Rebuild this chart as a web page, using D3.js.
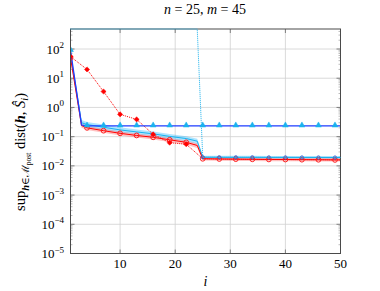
<!DOCTYPE html>
<html><head><meta charset="utf-8">
<script src="https://cdn.jsdelivr.net/npm/d3@7"></script>
<style>body{margin:0;background:#fff}svg{display:block}</style>
</head><body><svg id="c" width="380" height="291" font-family="Liberation Serif, DejaVu Serif, serif"></svg>
<script>
// ---- data ----
const xTicks = [10, 20, 30, 40, 50];
const yExps = [2, 1, 0, -1, -2, -3, -4, -5];
const iters = [1, 3, 4, 7, 10, 13, 16, 19, 22, 24, 25, 28, 31, 34, 37, 40, 43, 46, 49, 50];
const redMean = [50, 0.24, 0.2, 0.16, 0.13, 0.11, 0.095, 0.078, 0.064, 0.05, 0.0175, 0.0172, 0.017, 0.0168, 0.0166, 0.0165, 0.0163, 0.0162, 0.016, 0.016];
const redLo   = [44, 0.2, 0.17, 0.135, 0.11, 0.093, 0.08, 0.065, 0.053, 0.041, 0.0152, 0.015, 0.0148, 0.0146, 0.0145, 0.0144, 0.0143, 0.0142, 0.014, 0.014];
const redHi   = [56, 0.28, 0.23, 0.185, 0.15, 0.127, 0.11, 0.09, 0.074, 0.058, 0.0195, 0.0193, 0.0192, 0.019, 0.0189, 0.0188, 0.0187, 0.0186, 0.0185, 0.0185];
const cyMean  = [70, 0.3, 0.26, 0.21, 0.17, 0.145, 0.125, 0.102, 0.086, 0.07, 0.0198, 0.0197, 0.0196, 0.0196, 0.0195, 0.0195, 0.0194, 0.0194, 0.0193, 0.0193];
const cyLo    = [60, 0.24, 0.21, 0.17, 0.14, 0.12, 0.102, 0.083, 0.07, 0.056, 0.0178, 0.0177, 0.0176, 0.0176, 0.0175, 0.0175, 0.0175, 0.0174, 0.0174, 0.0174];
const cyHi    = [80, 0.37, 0.32, 0.26, 0.21, 0.175, 0.15, 0.123, 0.104, 0.085, 0.0222, 0.0221, 0.022, 0.022, 0.0219, 0.0219, 0.0218, 0.0218, 0.0217, 0.0217];
const blueFlat = [90, 0.25, 0.235, 0.235, 0.235, 0.235, 0.235, 0.235, 0.235, 0.235, 0.235, 0.235, 0.235, 0.235, 0.235, 0.235, 0.235, 0.235, 0.235, 0.235];
const dotIters = [1, 4, 7, 10, 13, 16, 19, 22, 25, 28, 31, 34, 37, 40, 43, 46, 49, 50];
const redDotted = [55, 20, 3.5, 0.58, 0.39, 0.12, 0.062, 0.055, 0.0175, 0.017, 0.0168, 0.0166, 0.0165, 0.0164, 0.0163, 0.0162, 0.016, 0.016];
const cyDotIters = [1, 24, 25, 28, 31, 34, 37, 40, 43, 46, 49, 50];
const cyDotted = [1e6, 500, 0.0198, 0.0197, 0.0196, 0.0196, 0.0195, 0.0195, 0.0194, 0.0194, 0.0193, 0.0193];

// ---- layout ----
const FONT = "Liberation Serif, DejaVu Serif, serif";
const L = 70.5, R = 340.5, T = 29, B = 253.5;
const svg = d3.select("#c");
const x = d3.scaleLinear().domain([1, 50]).range([L, R]);
const y = d3.scaleLog().domain([1e-5, Math.pow(10, 2.685)]).range([B, T]);
const yc = y.copy().clamp(true);

svg.append("clipPath").attr("id", "clip").append("rect").attr("x", L).attr("y", T).attr("width", R - L).attr("height", B - T);

const g = svg.append("g");
g.selectAll(".gx").data(xTicks).join("line").attr("x1", d => x(d)).attr("x2", d => x(d)).attr("y1", T).attr("y2", B).attr("stroke", "#d0d0d0").attr("stroke-width", 0.8);
g.selectAll(".gy").data(yExps).join("line").attr("x1", L).attr("x2", R).attr("y1", d => y(Math.pow(10, d))).attr("y2", d => y(Math.pow(10, d))).attr("stroke", "#d0d0d0").attr("stroke-width", 0.8);

const minors = [];
for (let e = -5; e <= 2; e++) for (let k = 2; k <= 9; k++) { const v = k * Math.pow(10, e); if (v < y.domain()[1]) minors.push(v); }
g.selectAll(".my").data(minors).join("path").attr("d", d => `M${L},${y(d)}h2M${R},${y(d)}h-2`).attr("stroke", "#777").attr("stroke-width", 0.5);
g.selectAll(".My").data(yExps).join("path").attr("d", d => `M${L},${y(Math.pow(10, d))}h4M${R},${y(Math.pow(10, d))}h-4`).attr("stroke", "#555").attr("stroke-width", 0.7);
g.selectAll(".Mx").data(xTicks).join("path").attr("d", d => `M${x(d)},${B}v-4M${x(d)},${T}v4`).attr("stroke", "#555").attr("stroke-width", 0.7);

const plot = svg.append("g").attr("clip-path", "url(#clip)");
const band = (lo, hi) => d3.area().x((d, i) => x(iters[i])).y0((d, i) => y(lo[i])).y1((d, i) => y(hi[i]))(iters);
const line = (xs, ys, sc) => d3.line().x((d, i) => x(xs[i])).y((d, i) => (sc || y)(ys[i]))(xs);

plot.append("path").attr("d", band(cyLo, cyHi)).attr("fill", "#33bbff").attr("opacity", 0.4);
plot.append("path").attr("d", band(redLo, redHi)).attr("fill", "#ff4d4d").attr("opacity", 0.35);

plot.append("path").attr("d", line(dotIters, redDotted)).attr("fill", "none").attr("stroke", "#ff0000").attr("stroke-width", 1).attr("stroke-dasharray", "1,1");

plot.append("path").attr("d", line(iters, cyMean)).attr("fill", "none").attr("stroke", "#1ab2ee").attr("stroke-width", 1);
plot.append("path").attr("d", line(iters, redMean)).attr("fill", "none").attr("stroke", "#ff0000").attr("stroke-width", 1);
plot.append("path").attr("d", line(iters, blueFlat)).attr("fill", "none").attr("stroke", "#1f3cff").attr("stroke-width", 1.3);

const isMark = i => (i - 1) % 3 === 0;
const idx = iters.map((d, i) => i).filter(i => isMark(iters[i]));
plot.selectAll(".rc").data(idx).join("circle").attr("cx", i => x(iters[i])).attr("cy", i => y(redMean[i])).attr("r", 2.4).attr("fill", "none").attr("stroke", "#ff2020").attr("stroke-width", 1);
plot.selectAll(".bc").data(idx.filter(i => iters[i] >= 25)).join("circle").attr("cx", i => x(iters[i])).attr("cy", i => y(cyMean[i])).attr("r", 1.6).attr("fill", "none").attr("stroke", "#3060d0").attr("stroke-width", 0.9);
const tri = d3.symbol().type(d3.symbolTriangle).size(15);
plot.selectAll(".bt").data(idx).join("path").attr("transform", i => `translate(${x(iters[i])},${y(blueFlat[i]) - 0.5})`).attr("d", tri).attr("fill", "#1ab2ee").attr("stroke", "#1ab2ee").attr("stroke-width", 0.5);
const sq = d3.symbol().type(d3.symbolSquare).size(13);
const didx = dotIters.map((d, i) => i).filter(i => isMark(dotIters[i]) && dotIters[i] < 25);
plot.selectAll(".rd").data(didx).join("path").attr("transform", i => `translate(${x(dotIters[i])},${y(redDotted[i])}) rotate(45)`).attr("d", sq).attr("fill", "#ff0000").attr("stroke", "#ff0000").attr("stroke-width", 0.5);

svg.append("rect").attr("x", L).attr("y", T).attr("width", R - L).attr("height", B - T).attr("fill", "none").attr("stroke", "#4a4a4a").attr("stroke-width", 1);

// cyan dotted (clamped to top edge), drawn over the frame
svg.append("path").attr("d", line(cyDotIters, cyDotted, yc)).attr("fill", "none").attr("stroke", "#1ab2ee").attr("stroke-width", 1).attr("stroke-dasharray", "1,1");

svg.selectAll(".xl").data(xTicks).join("text").attr("font-family", FONT).attr("x", d => x(d)).attr("y", 268).attr("text-anchor", "middle").attr("font-size", 13).text(d => d);
const yl = svg.selectAll(".yl").data(yExps).join("text").attr("font-family", FONT).attr("x", 64).attr("y", d => y(Math.pow(10, d)) + 4.5).attr("text-anchor", "end").attr("font-size", 13);
yl.append("tspan").text("10");
yl.append("tspan").attr("dy", -5.5).attr("font-size", 9).text(d => String(d).replace("-", "\u2212"));

const t = svg.append("text").attr("font-family", FONT).attr("x", 205).attr("y", 14).attr("text-anchor", "middle").attr("font-size", 14);
t.append("tspan").attr("font-style", "italic").text("n");
t.append("tspan").text(" = 25, ");
t.append("tspan").attr("font-style", "italic").text("m");
t.append("tspan").text(" = 45");

svg.append("text").attr("font-family", FONT).attr("x", 205.5).attr("y", 286).attr("text-anchor", "middle").attr("font-size", 14).attr("font-style", "italic").text("i");

const ylab = svg.append("text").attr("font-family", FONT).attr("transform", "translate(25,152) rotate(-90)").attr("text-anchor", "middle").attr("font-size", 14.5);
ylab.append("tspan").text("sup");
ylab.append("tspan").attr("dy", 3.5).attr("font-size", 10.5).attr("font-weight", "bold").attr("font-style", "italic").text("h");
ylab.append("tspan").attr("font-size", 10.5).text("\u2208\u2133");
ylab.append("tspan").attr("dy", 2).attr("font-size", 7.5).text("post");
ylab.append("tspan").attr("dy", -5.5).text(" dist(");
ylab.append("tspan").attr("font-weight", "bold").attr("font-style", "italic").text("h");
ylab.append("tspan").text(", ");
ylab.append("tspan").attr("font-style", "italic").text("\u015C");
ylab.append("tspan").attr("dy", 3).attr("font-size", 10.5).attr("font-style", "italic").text("i");
ylab.append("tspan").attr("dy", -3).text(")");
</script></body></html>
